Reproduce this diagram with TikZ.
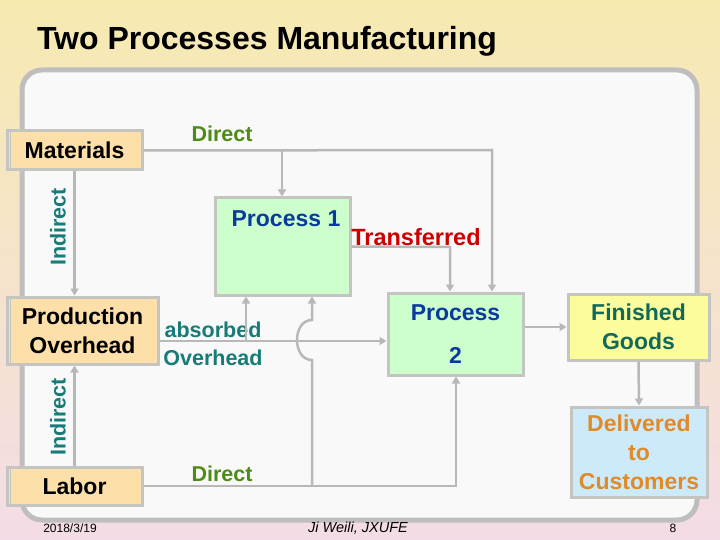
\documentclass[tikz,border=0pt]{standalone}
\usepackage{fontspec}
\setmainfont{Liberation Sans}
\usetikzlibrary{arrows.meta}
\definecolor{boxgray}{HTML}{C4C4C0}
\definecolor{linegray}{HTML}{B8B8B8}
\definecolor{framegray}{HTML}{BEBEBE}
\definecolor{framefill}{HTML}{F9F9F9}
\definecolor{peach}{HTML}{FDDFAA}
\definecolor{lgreen}{HTML}{CCFFCC}
\definecolor{lyellow}{HTML}{FCFC9C}
\definecolor{lblue}{HTML}{CCEAFA}
\definecolor{procblue}{HTML}{0A3A9E}
\definecolor{fgteal}{HTML}{11695C}
\definecolor{delorange}{HTML}{E08A28}
\definecolor{dirgreen}{HTML}{4D8C14}
\definecolor{indteal}{HTML}{177B78}
\definecolor{transred}{HTML}{CC0000}
\definecolor{bgtop}{HTML}{F6EAB0}
\definecolor{bgbot}{HTML}{F4DCE6}
\begin{document}
\begin{tikzpicture}[x=1pt,y=-1pt,
  box/.style={draw=boxgray, line width=3pt, inner sep=0pt, align=center,
    font=\fontsize{23}{29}\selectfont\bfseries},
  txt/.style={inner sep=0pt, align=center},
  lbl/.style={inner sep=0pt, align=center, font=\fontsize{21.5}{28}\selectfont\bfseries},
  conn/.style={draw=linegray, line width=2.5pt},
  arr/.style={conn, -{Triangle[length=7pt,width=8pt]}},
  edge3d/.style={draw=boxgray, line width=1.5pt}]
\useasboundingbox (0,0) rectangle (720,540);
% background
\shade[top color=bgtop, bottom color=bgbot] (0,0) rectangle (720,540);
\draw[framegray, line width=5pt, fill=framefill, rounded corners=20pt] (22,70) rectangle (697,520);
% title
\node[txt, font=\fontsize{32}{36}\selectfont\bfseries] (title) at (267,41) {Two Processes Manufacturing};
% boxes
\node[box, fill=peach, minimum width=135pt, minimum height=39pt] (mat) at (74.5,150.5) {Materials};
\node[box, fill=peach, minimum width=151pt, minimum height=67pt] (po) at (82.5,330.5) {Production\\Overhead};
\node[box, fill=peach, minimum width=135pt, minimum height=38pt] (lab) at (74.5,486) {Labor};
\draw[edge3d] ([xshift=5pt]mat.north west) -- ([xshift=5pt]mat.south west);
\draw[edge3d] ([xshift=5pt]po.north west) -- ([xshift=5pt]po.south west);
\draw[edge3d] ([xshift=5pt]lab.north west) -- ([xshift=5pt]lab.south west);
\node[box, fill=lgreen, minimum width=135pt, minimum height=97pt] (p1) at (282.5,246.5) {};
\node[txt, text=procblue, font=\fontsize{23}{29}\selectfont\bfseries] (p1t) at (286,219) {Process 1};
\node[box, fill=lgreen, text=procblue, minimum width=135pt, minimum height=82pt] (p2) at (455.5,334) {Process\\[14pt]2};
\node[box, fill=lyellow, text=fgteal, minimum width=141pt, minimum height=66pt] (fg) at (638.5,327) {Finished\\Goods};
\node[box, fill=lblue, text=delorange, minimum width=136pt, minimum height=90pt] (del) at (639,452) {Delivered\\to\\Customers};
% labels
\node[lbl, text=dirgreen] (dir1) at (222,134) {Direct};
\node[lbl, text=dirgreen] (dir2) at (222,474) {Direct};
\node[lbl, text=transred, font=\fontsize{23.5}{28}\selectfont\bfseries] (trans) at (416,237) {Transferred};
\node[lbl, text=indteal, rotate=90] (ind1) at (58,227) {Indirect};
\node[lbl, text=indteal, rotate=90] (ind2) at (58,417) {Indirect};
\node[lbl, text=indteal] (abs) at (213,344) {absorbed\\Overhead};
% coordinates
\coordinate (c1) at (492,150);
\coordinate (c2) at (282,150);
\coordinate (c3) at (450,247);
\coordinate (ov) at (158,341);
\coordinate (c5) at (246,341);
\coordinate (c6) at (456,486);
\coordinate (c7) at (312,486);
\coordinate (h1) at (312,360);
\coordinate (h2) at (312,320);
% connectors
\draw[arr] (mat.east) -- (c1) -- (c1 |- p2.north);
\draw[arr] (c2) -- (c2 |- p1.north);
\draw[arr] (p1.east) -- (c3) -- (c3 |- p2.north);
\draw[arr] (mat.south) -- (mat.south |- po.north);
\draw[arr] (lab.north) -- (lab.north |- po.south);
\draw[arr] (po.east |- ov) -- (p2.west |- ov);
\draw[arr] (c5) -- (c5 |- p1.south);
\draw[arr] (lab.east) -- (c6) -- (c6 |- p2.south);
\draw[arr] (c7) -- (h1) .. controls (292,360) and (292,320) .. (h2) -- (c7 |- p1.south);
\draw[arr] (p2.east |- fg.west) -- (fg.west);
\draw[arr] (fg.south) -- (del.north);
% footer
\node[txt, font=\fontsize{12}{14}\selectfont] (date) at (70,528) {2018/3/19};
\node[txt, font=\fontsize{14.5}{16}\selectfont\itshape] (auth) at (358,528) {Ji Weili, JXUFE};
\node[txt, font=\fontsize{12}{14}\selectfont] (page) at (673,528) {8};
\end{tikzpicture}
\end{document}
